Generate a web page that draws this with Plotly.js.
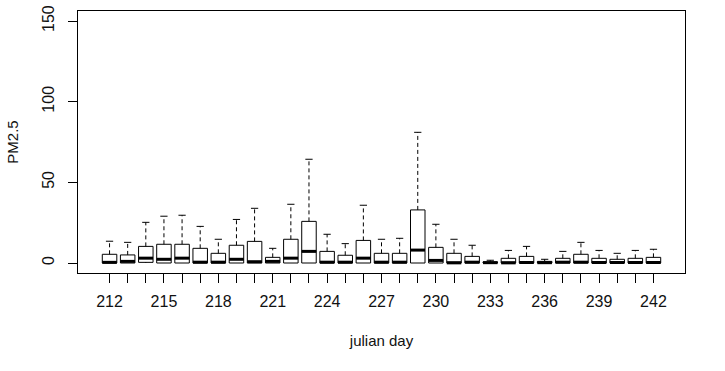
<!DOCTYPE html>
<html>
<head>
<meta charset="utf-8">
<script src="https://cdn.plot.ly/plotly-3.0.1.min.js"></script>
<style>html,body{margin:0;padding:0;background:#fff}#chart{width:725px;height:371px}</style>
</head>
<body>
<div id="chart"></div>
<script>
const days = [212,213,214,215,216,217,218,219,220,221,222,223,224,225,226,227,228,229,230,231,232,233,234,235,236,237,238,239,240,241,242];
const lowerWhisker = [0,0,0,0,0,0,0,0,0,0,0,0,0,0,0,0,0,0,0,0,0,0,0,0,0,0,0,0,0,0,0];
const q1 = [0,0,0.4,0,0,0,0,0,0,0,0,0,0,0,0,0,0,0,0,0,0,0,0,0,0,0,0,0,0,0,0];
const median = [0.4,1,3,2.3,3,0.5,0.5,2.3,0.8,1,3,7.2,0.5,0.5,3,0.5,0.5,8,1.6,0.1,0.5,0.2,0.1,0.3,0.2,0.5,0.5,0.3,0.3,0.3,0.3];
const q3 = [5.4,5,10.3,11.6,11.6,9.1,6,11,13.4,3.5,14.7,25.8,7.2,4.8,14,6,6,32.9,9.7,6,4.1,0.7,2.9,4.1,1,2.9,5.4,2.9,2.3,2.9,3.5];
const upperWhisker = [13.5,12.8,25.2,29,29.6,22.7,14.7,27,33.9,9.1,36.4,64.3,17.8,12,35.8,14.7,15.3,81,24,14.7,11,1.7,7.8,10.3,2.3,7.2,12.8,7.8,6,7.8,8.5];
const labelDays = [212,215,218,221,224,227,230,233,236,239,242];

const half = 0.4, capHalf = 0.2;
const stemX = [], stemY = [], capX = [], capY = [], medX = [], medY = [];
days.forEach((d, i) => {
  stemX.push(d, d, null, d, d, null);
  stemY.push(q3[i], upperWhisker[i], null, q1[i], lowerWhisker[i], null);
  capX.push(d - capHalf, d + capHalf, null);
  capY.push(upperWhisker[i], upperWhisker[i], null);
  medX.push(d - half, d + half, null);
  medY.push(median[i], median[i], null);
});

const traces = [
  {type: 'scatter', mode: 'lines', x: stemX, y: stemY, line: {color: '#000', width: 1, dash: '4px,3px'}, hoverinfo: 'skip', showlegend: false},
  {type: 'scatter', mode: 'lines', x: capX, y: capY, line: {color: '#000', width: 1}, hoverinfo: 'skip', showlegend: false},
  {type: 'box', x: days, q1: q1, median: median, q3: q3, lowerfence: q1, upperfence: q3,
   width: 0.8, whiskerwidth: 0, fillcolor: '#fff', line: {color: '#000', width: 1}, showlegend: false},
  {type: 'scatter', mode: 'lines', x: medX, y: medY, line: {color: '#000', width: 3}, hoverinfo: 'skip', showlegend: false}
];

const layout = {
  width: 725, height: 371,
  margin: {l: 78, r: 40, t: 11, b: 98},
  paper_bgcolor: '#fff', plot_bgcolor: '#fff',
  font: {family: 'Liberation Sans, Arial, sans-serif', size: 16, color: '#111'},
  showlegend: false,
  xaxis: {
    range: [210.26, 243.74], showgrid: false, zeroline: false,
    showline: true, mirror: true, linecolor: '#000', linewidth: 1,
    ticks: 'outside', ticklen: 9, tickcolor: '#000',
    tickvals: days, ticktext: days.map(d => labelDays.includes(d) ? String(d) : ''),
    ticklabelstandoff: 5,
    title: {text: 'julian day', standoff: 26, font: {size: 15}}
  },
  yaxis: {
    range: [-6.2, 156.2], showgrid: false, zeroline: false,
    showline: true, mirror: true, linecolor: '#000', linewidth: 1,
    ticks: 'outside', ticklen: 9, tickcolor: '#000',
    tickvals: [0, 50, 100, 150], tickangle: -90,
    ticklabelstandoff: 8,
    title: {text: 'PM2.5', standoff: 17, font: {size: 15}}
  }
};

Plotly.newPlot('chart', traces, layout, {displayModeBar: false, staticPlot: true});
</script>
</body>
</html>
